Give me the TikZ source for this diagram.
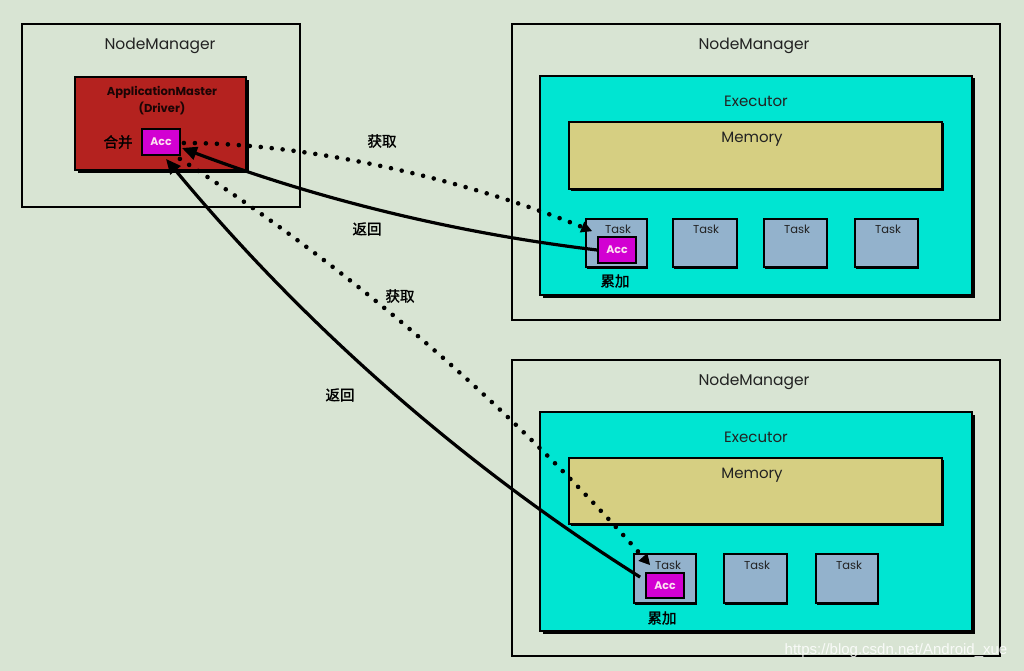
\documentclass[tikz,border=0pt]{standalone}
\usepackage{fontspec}
\setmainfont{Poppins}
\newfontfamily\cjk[FakeBold=1.5]{Noto Sans CJK SC}
\newfontfamily\wmfont{Liberation Sans}
\usetikzlibrary{calc,arrows.meta,shadows}
\definecolor{bgc}{HTML}{D8E4D3}
\definecolor{redc}{HTML}{B4221F}
\definecolor{magc}{HTML}{D200D2}
\definecolor{cyanc}{HTML}{00E5D2}
\definecolor{memc}{HTML}{D6CF82}
\definecolor{taskc}{HTML}{93B2CC}
\definecolor{txtc}{HTML}{222222}
\tikzset{
  box/.style={draw=black, line width=1.6pt, inner sep=0pt, anchor=center},
  nmbox/.style={box, fill=bgc},
  exbox/.style={box, fill=cyanc, line width=2pt, general shadow={shadow xshift=2.5pt, shadow yshift=-2.5pt, fill=black}},
  membox/.style={box, fill=memc, general shadow={shadow xshift=1.5pt, shadow yshift=-1.5pt, fill=black}},
  amstyle/.style={box, fill=redc, general shadow={shadow xshift=3pt, shadow yshift=-3pt, fill=black}},
  taskbox/.style={box, fill=taskc, general shadow={shadow xshift=1pt, shadow yshift=-1.5pt, fill=black}},
  accbox/.style={box, fill=magc, line width=1.8pt, text=magenta!12, font=\fontsize{11}{13}\selectfont\bfseries},
  lbl/.style={inner sep=0pt, text=txtc},
  nmlbl/.style={lbl, font=\fontsize{15.5}{18}\selectfont},
  exlbl/.style={lbl, font=\fontsize{15}{18}\selectfont},
  tasklbl/.style={lbl, font=\fontsize{11.5}{13}\selectfont},
  cn/.style={lbl, text=black, font=\cjk\fontsize{14.5}{17}\selectfont},
  ret/.style={line width=3.2pt, -{Triangle[length=15pt,width=13pt]}},
  fetch/.style={line width=4.6pt, line cap=round, dash pattern=on 0pt off 11pt, -{Triangle[length=11pt,width=11pt]}},
}
\begin{document}
\begin{tikzpicture}[x=1pt,y=-1pt]
\fill[bgc] (0,0) rectangle (1024,671);
\useasboundingbox (0,0) rectangle (1024,671);

% left NodeManager
\node[nmbox, minimum width=278pt, minimum height=183pt] (nm1) at (161,115.5) {};
\node[nmlbl] (nm1l) at (160,46) {NodeManager};
\node[amstyle, minimum width=171pt, minimum height=93pt] (am) at (160.5,123.5) {};
\node[lbl, text=black!85!redc, font=\fontsize{11.5}{14}\selectfont\bfseries] (aml1) at (162,92) {ApplicationMaster};
\node[lbl, text=black!85!redc, font=\fontsize{11.5}{14}\selectfont\bfseries] (aml2) at (162,108) {(Driver)};
\node[accbox, minimum width=38pt, minimum height=26pt] (acc1) at (161,142) {Acc};
\node[cn] (merge) at (118,142) {合并};

% top-right NodeManager
\node[nmbox, minimum width=488pt, minimum height=296pt] (nm2) at (756,172) {};
\node[nmlbl] (nm2l) at (754,46) {NodeManager};
\node[exbox, minimum width=432pt, minimum height=219pt] (ex1) at (756,185.5) {};
\node[exlbl] (ex1l) at (756,101) {Executor};
\node[membox, minimum width=373pt, minimum height=67pt] (mem1) at (755.5,155.5) {};
\node[exlbl] (mem1l) at (752,139) {Memory};
\node[taskbox, minimum width=61pt, minimum height=48pt] (t11) at (616.5,243) {};
\node[taskbox, minimum width=64pt, minimum height=48pt] (t12) at (705,243) {};
\node[taskbox, minimum width=63pt, minimum height=48pt] (t13) at (795.5,243) {};
\node[taskbox, minimum width=63pt, minimum height=48pt] (t14) at (886.5,243) {};
\node[tasklbl] (t11l) at (618,229) {Task};
\node[tasklbl] (t12l) at (706,229) {Task};
\node[tasklbl] (t13l) at (797,229) {Task};
\node[tasklbl] (t14l) at (888,229) {Task};
\node[accbox, minimum width=38pt, minimum height=26pt] (acc2) at (617,250) {Acc};
\node[cn] (add1) at (615,281) {累加};

% bottom-right NodeManager
\node[nmbox, minimum width=488pt, minimum height=296pt] (nm3) at (756,508) {};
\node[nmlbl] (nm3l) at (754,382) {NodeManager};
\node[exbox, minimum width=432pt, minimum height=219pt] (ex2) at (756,521.5) {};
\node[exlbl] (ex2l) at (756,437) {Executor};
\node[membox, minimum width=373pt, minimum height=66pt] (mem2) at (755.5,491) {};
\node[exlbl] (mem2l) at (752,475) {Memory};
\node[taskbox, minimum width=62pt, minimum height=49pt] (t21) at (665,578.5) {};
\node[taskbox, minimum width=63pt, minimum height=49pt] (t22) at (755.5,578.5) {};
\node[taskbox, minimum width=62pt, minimum height=49pt] (t23) at (847,578.5) {};
\node[tasklbl] (t21l) at (668,565) {Task};
\node[tasklbl] (t22l) at (757,565) {Task};
\node[tasklbl] (t23l) at (849,565) {Task};
\node[accbox, minimum width=38pt, minimum height=25pt] (acc3) at (665,585.5) {Acc};
\node[cn] (add2) at (662,618) {累加};

% connector labels
\node[cn] (get1) at (382,141) {获取};
\node[cn] (ret1) at (367,229) {返回};
\node[cn] (get2) at (400,296) {获取};
\node[cn] (ret2) at (340,395) {返回};

% connectors
\coordinate (f1s) at ($(acc1.east)+(3,1)$);
\coordinate (f1e) at ($(t11.north west)+(7,13)$);
\draw[fetch] (f1s) .. controls (320,143) and (480,185) .. (f1e);

\coordinate (r1s) at ($(acc2.west)+(0,0)$);
\coordinate (r1e) at ($(acc1.east)+(1,6)$);
\draw[ret] (r1s) .. controls (455,233) and (317,199) .. (r1e);

\coordinate (f2s) at ($(acc1.south east)+(-1,3)$);
\coordinate (f2e) at ($(t21.north west)+(17,12)$);
\draw[fetch] (f2s) .. controls (354,271) and (510,407) .. (f2e);

\coordinate (r2s) at ($(acc3.north west)+(-5,5)$);
\coordinate (r2e) at ($(acc1.south)+(5,3)$);
\draw[ret] (r2s) .. controls (461,464) and (303,324) .. (r2e);

% watermark
\node[lbl, text=white, opacity=0.85, font=\wmfont\fontsize{15}{18}\selectfont] (wm) at (896,651) {https://blog.csdn.net/Android\_xue};
\end{tikzpicture}
\end{document}
